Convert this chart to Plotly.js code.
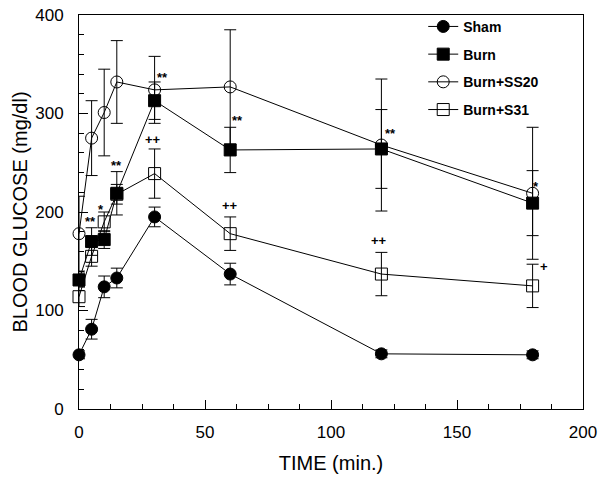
<!DOCTYPE html>
<html>
<head>
<meta charset="utf-8">
<script src="https://cdn.plot.ly/plotly-3.0.1.min.js"></script>
<style>html,body{margin:0;padding:0;background:#fff;}#chart{width:604px;height:485px;}</style>
</head>
<body>
<div id="chart"></div>
<script>
const time = [0, 5, 10, 15, 30, 60, 120, 180];

const sham = [55, 81, 124, 133, 195, 137, 56, 55];
const shamErr = [4, 10, 11, 10, 10, 11, 4, 4];

const burn = [131, 170, 172, 219, 313, 263, 264, 209];
const burnErr = [7, 14, 9, 22, 19, 23, 40, 33];

const ss20 = [178, 275, 301, 332, 324, 327, 268, 219];
const ss20Err = [38, 38, 44, 42, 34, 58, 67, 67];

const s31 = [114, 155, 190, 218, 239, 178, 137, 125];
const s31Err = [10, 10, 10, 10, 25, 17, 22, 22];

const seriesNames = ['Sham', 'Burn', 'Burn+SS20', 'Burn+S31'];

const annText = ['**', '*', '**', '**', '++', '**', '++', '**', '++', '*', '+'];
const annX = [4.6, 8.6, 14.7, 33, 29.5, 62.7, 60, 123.5, 119, 181.5, 184.5];
const annY = [190, 203, 247, 337, 274, 293, 207, 280, 171, 226, 145];

const FONT = 'Liberation Sans, Arial, sans-serif';

function mk(name, y, err, symbol, idx) {
  return {
    x: time, y: y, name: name, type: 'scatter', mode: 'lines+markers',
    legendgroup: 'g' + idx,
    cliponaxis: false,
    line: {color: 'black', width: 1},
    marker: {symbol: symbol, size: 12, color: 'black', line: {color: 'black', width: 1}},
    error_y: {type: 'data', array: err, visible: true, color: 'black', thickness: 1, width: 6}
  };
}

const data = [
  mk(seriesNames[0], sham, shamErr, 'circle', 0),
  mk(seriesNames[1], burn, burnErr, 'square', 1),
  mk(seriesNames[2], ss20, ss20Err, 'circle-open', 2),
  mk(seriesNames[3], s31, s31Err, 'square-open', 3)
];

const annotations = annText.map((t, i) => ({
  x: annX[i], y: annY[i], xref: 'x', yref: 'y', text: t, showarrow: false,
  font: {family: FONT, size: 13, color: 'black', weight: 'bold'}
}));

const layout = {
  width: 604, height: 485,
  margin: {l: 79, r: 21, t: 14, b: 76},
  paper_bgcolor: 'white', plot_bgcolor: 'white',
  font: {family: FONT, color: 'black'},
  showlegend: true,
  legend: {
    x: 0.683, y: 1.008, xanchor: 'left', yanchor: 'top',
    bgcolor: 'rgba(0,0,0,0)', borderwidth: 0,
    tracegroupgap: 6.5,
    font: {family: FONT, size: 14, color: 'black', weight: 'bold'}
  },
  xaxis: {
    range: [0, 200], tick0: 0, dtick: 50,
    ticks: 'inside', ticklen: 9, tickwidth: 1, tickcolor: 'black',
    showline: true, linecolor: 'black', linewidth: 1, mirror: true,
    showgrid: false, zeroline: false,
    tickfont: {family: FONT, size: 17, color: 'black'},
    ticklabelstandoff: 8,
    minor: {dtick: 12.5, ticks: 'inside', ticklen: 5, tickwidth: 1, tickcolor: 'black', showgrid: false},
    title: {text: 'TIME (min.)', font: {family: FONT, size: 20, color: 'black'}, standoff: 14}
  },
  yaxis: {
    range: [0, 400], tick0: 0, dtick: 100,
    ticks: 'inside', ticklen: 9, tickwidth: 1, tickcolor: 'black',
    showline: true, linecolor: 'black', linewidth: 1, mirror: true,
    showgrid: false, zeroline: false,
    tickfont: {family: FONT, size: 17, color: 'black'},
    ticklabelstandoff: 11,
    minor: {dtick: 20, ticks: 'inside', ticklen: 5, tickwidth: 1, tickcolor: 'black', showgrid: false},
    title: {text: 'BLOOD GLUCOSE (mg/dl)', font: {family: FONT, size: 20, color: 'black'}, standoff: 2}
  },
  annotations: annotations
};

Plotly.newPlot('chart', data, layout, {displayModeBar: false, staticPlot: true});
</script>
</body>
</html>
